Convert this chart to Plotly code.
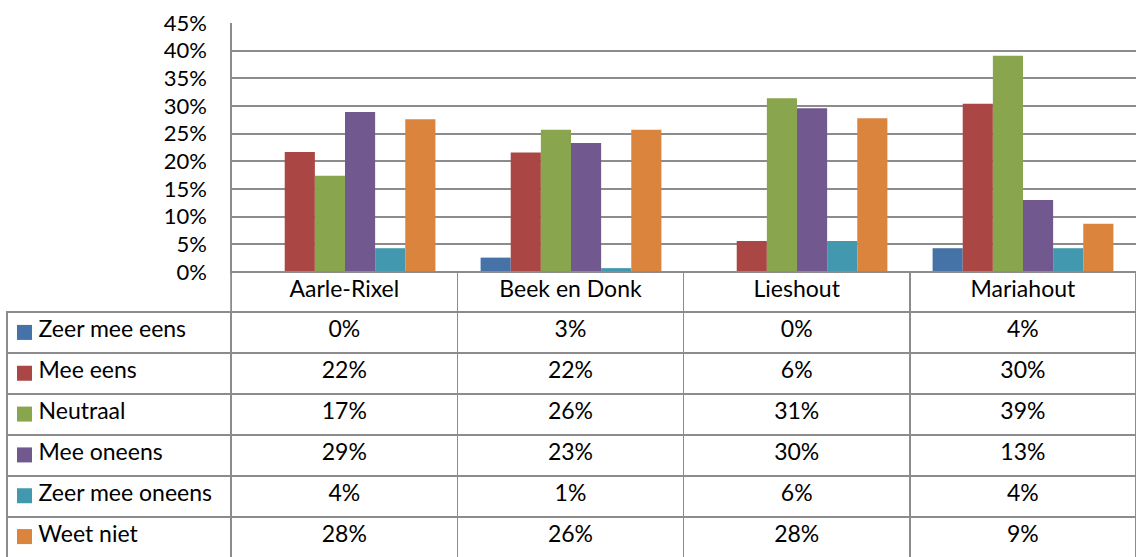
import plotly.graph_objects as go

# locations (categories) and answer series
locations = ["Aarle-Rixel", "Beek en Donk", "Lieshout", "Mariahout"]
series_names = ["Zeer mee eens", "Mee eens", "Neutraal", "Mee oneens", "Zeer mee oneens", "Weet niet"]
zeer_mee_eens = [0.0, 0.026, 0.0, 0.043]
mee_eens = [0.217, 0.216, 0.056, 0.304]
neutraal = [0.174, 0.257, 0.314, 0.391]
mee_oneens = [0.289, 0.233, 0.296, 0.130]
zeer_mee_oneens = [0.043, 0.007, 0.056, 0.043]
weet_niet = [0.276, 0.257, 0.278, 0.087]
y_ticks = [0, 0.05, 0.10, 0.15, 0.20, 0.25, 0.30, 0.35, 0.40, 0.45]

series_values = [zeer_mee_eens, mee_eens, neutraal, mee_oneens, zeer_mee_oneens, weet_niet]
colors = ["#4572A7", "#AA4643", "#89A54E", "#71588F", "#4198AF", "#DB843D"]

W, H = 1136, 557
FONT = "Lato"
FS = 23
GRID = "#8c8c8c"
CLEAR = "rgba(0,0,0,0)"

fig = go.Figure()

for name, vals, col in zip(series_names, series_values, colors):
    fig.add_trace(go.Bar(x=locations, y=vals, name=name, marker_color=col,
                         marker_line_width=0, showlegend=False, hoverinfo="skip"))

# legend keys in the first table column: squares on a hidden overlay axis, one per row
fig.add_trace(go.Scatter(x=[24.5] * len(series_names), y=list(range(len(series_names))),
                         mode="markers", xaxis="x2", yaxis="y2",
                         marker=dict(symbol="square", size=15, color=colors, line_width=0),
                         showlegend=False, hoverinfo="skip"))

# data table under the chart (nbsp so plotly's table does not re-wrap the labels)
pad = "\u00a0" * 4
label_col = [pad + n.replace(" ", "\u00a0") for n in series_names]
value_cols = [[f"{v[i]:.0%}" for v in series_values] for i in range(len(locations))]

fig.add_trace(go.Table(
    domain=dict(x=[7 / W, 1], y=[0, 285 / H]),
    columnwidth=[225, 227, 227, 227, 227],
    header=dict(values=[""] + locations, height=40, align="center",
                fill_color=[CLEAR, "white", "white", "white", "white"],
                line=dict(color=[CLEAR, GRID, GRID, GRID, GRID], width=1.5),
                font=dict(family=FONT, size=FS, color="black")),
    cells=dict(values=[label_col] + value_cols, height=41,
               align=["left", "center", "center", "center", "center"],
               fill_color=[CLEAR, "white", "white", "white", "white"],
               line=dict(color=GRID, width=1.5),
               font=dict(family=FONT, size=FS, color="black")),
))

fig.update_layout(
    width=W, height=H,
    margin=dict(l=0, r=0, t=0, b=0),
    paper_bgcolor="white", plot_bgcolor=CLEAR,
    barmode="group", bargap=0.2, bargroupgap=0,
    font=dict(family=FONT, size=22, color="black"),
    xaxis=dict(domain=[232 / W, 1], showticklabels=False, showgrid=False,
               showline=True, linecolor=GRID, linewidth=1.5, automargin=False),
    yaxis=dict(domain=[285 / H, 534 / H], range=[0, 0.45], tickvals=y_ticks,
               tickformat=".0%", showgrid=True, gridcolor=GRID, gridwidth=1.5,
               showline=True, linecolor=GRID, linewidth=1.5, zeroline=False,
               automargin=False, ticklabelstandoff=19,
               tickfont=dict(family=FONT, size=22)),
    xaxis2=dict(domain=[0, 1], range=[0, W], visible=False, anchor="y2"),
    yaxis2=dict(domain=[0, 245 / H], range=[5.5, -0.5], visible=False, anchor="x2"),
)

fig.write_html("out.html", config={"displayModeBar": False},
               post_script="document.body.style.margin='0';")
